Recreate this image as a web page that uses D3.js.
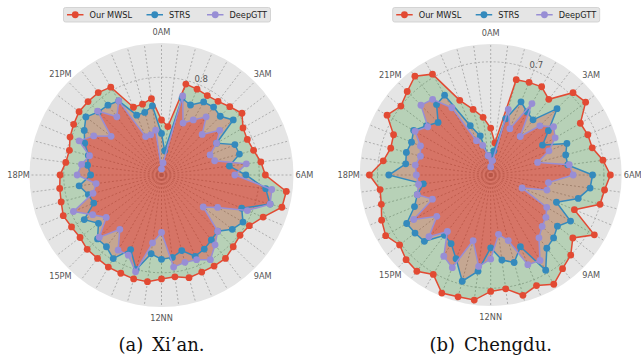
<!DOCTYPE html>
<html>
<head>
<meta charset="utf-8">
<script src="https://cdn.jsdelivr.net/npm/d3@7"></script>
<style>
  body { margin: 0; background: #fff; }
  svg text { font-family: "DejaVu Sans", sans-serif; }
</style>
</head>
<body>
<svg id="chart" width="641" height="360"></svg>
<script>
// 48 half-hour slots, labelled every 3 hours
const hourLabels = ["0AM", "3AM", "6AM", "9AM", "12NN", "15PM", "18PM", "21PM"];
const seriesNames = ["Our MWSL", "STRS", "DeepGTT"];
const seriesColors = ["#E24A33", "#348ABD", "#988ED5"];
const fillColors = ["rgba(0,128,0,0.2)", "rgba(255,0,0,0.2)", "rgba(255,0,0,0.3)"];

// Xi'an
const xianMWSL = [0.45, 0.40, 0.77, 0.76, 0.75, 0.76, 0.79, 0.83, 0.77, 0.76, 0.78, 0.82,
  0.85, 1.03, 1.02, 0.90, 0.83, 0.81, 0.83, 0.86, 0.86, 0.86, 0.87, 0.84,
  0.85, 0.88, 0.88, 0.87, 0.87, 0.86, 0.86, 0.84, 0.85, 0.87, 0.85, 0.84,
  0.83, 0.79, 0.78, 0.81, 0.83, 0.85, 0.85, 0.85, 0.83, 0.60, 0.60, 0.63];
const xianSTRS = [0.34, 0.20, 0.65, 0.62, 0.69, 0.70, 0.68, 0.74, 0.52, 0.65, 0.66, 0.56,
  0.69, 0.86, 0.92, 0.71, 0.77, 0.73, 0.65, 0.67, 0.70, 0.72, 0.64, 0.68,
  0.69, 0.65, 0.80, 0.66, 0.79, 0.74, 0.74, 0.65, 0.73, 0.60, 0.62, 0.68,
  0.58, 0.61, 0.62, 0.68, 0.73, 0.78, 0.73, 0.72, 0.70, 0.53, 0.53, 0.57];
const xianDeepGTT = [0.05, 0.10, 0.67, 0.46, 0.52, 0.60, 0.47, 0.60, 0.52, 0.43, 0.45, 0.70,
  0.60, 0.91, 0.92, 0.76, 0.53, 0.43, 0.65, 0.72, 0.80, 0.75, 0.74, 0.76,
  0.47, 0.56, 0.82, 0.71, 0.71, 0.56, 0.72, 0.57, 0.65, 0.78, 0.58, 0.54,
  0.69, 0.66, 0.61, 0.73, 0.64, 0.52, 0.74, 0.60, 0.70, 0.34, 0.34, 0.37];

// Chengdu
const chengduMWSL = [0.29, 0.20, 0.61, 0.62, 0.63, 0.59, 0.72, 0.74, 0.64, 0.65, 0.65, 0.70,
  0.74, 0.71, 0.70, 0.56, 0.74, 0.64, 0.70, 0.73, 0.78, 0.74, 0.77, 0.71,
  0.72, 0.78, 0.78, 0.79, 0.71, 0.75, 0.74, 0.71, 0.75, 0.73, 0.70, 0.69,
  0.75, 0.67, 0.64, 0.65, 0.74, 0.70, 0.73, 0.77, 0.72, 0.50, 0.42, 0.36];
const chengduSTRS = [0.12, 0.15, 0.36, 0.49, 0.45, 0.43, 0.58, 0.45, 0.37, 0.51, 0.48, 0.48,
  0.63, 0.62, 0.56, 0.44, 0.57, 0.52, 0.55, 0.57, 0.68, 0.48, 0.56, 0.53,
  0.45, 0.60, 0.68, 0.56, 0.49, 0.47, 0.58, 0.59, 0.60, 0.51, 0.47, 0.42,
  0.63, 0.53, 0.54, 0.53, 0.55, 0.50, 0.46, 0.55, 0.57, 0.33, 0.25, 0.12];
const chengduDeepGTT = [0.05, 0.09, 0.42, 0.31, 0.51, 0.30, 0.43, 0.49, 0.46, 0.39, 0.30, 0.49,
  0.51, 0.36, 0.36, 0.21, 0.40, 0.43, 0.45, 0.49, 0.61, 0.60, 0.42, 0.37,
  0.52, 0.57, 0.42, 0.62, 0.58, 0.44, 0.54, 0.42, 0.55, 0.39, 0.47, 0.45,
  0.46, 0.47, 0.45, 0.47, 0.54, 0.49, 0.61, 0.59, 0.48, 0.23, 0.19, 0.12];

const xianTicks = [0.8];
const chengduTicks = [0.7];

const N = 48;
const svg = d3.select("#chart");

function drawPanel(opts) {
  const g = svg.append("g").attr("transform", `translate(${opts.cx},${opts.cy})`);
  const angle = d3.scaleLinear().domain([0, N]).range([0, 2 * Math.PI]);
  const radius = d3.scaleLinear().domain([0, opts.rMax]).range([0, opts.R]);
  const px = (i, r) => r * Math.sin(angle(i));
  const py = (i, r) => -r * Math.cos(angle(i));

  // axes background
  g.append("circle").attr("r", opts.R).attr("fill", "#e5e5e5");

  // angular grid
  g.selectAll(".spoke").data(d3.range(N)).join("line")
    .attr("x1", 0).attr("y1", 0)
    .attr("x2", i => px(i, opts.R))
    .attr("y2", i => py(i, opts.R))
    .attr("stroke", "#a0a0a0")
    .attr("stroke-width", 0.8)
    .attr("stroke-dasharray", "2,2");

  // radial grid
  g.selectAll(".ring").data(opts.ticks).join("circle")
    .attr("r", d => radius(d))
    .attr("fill", "none")
    .attr("stroke", "#a0a0a0")
    .attr("stroke-width", 0.8)
    .attr("stroke-dasharray", "2,2");

  g.selectAll(".rlabel").data(opts.ticks).join("text")
    .attr("x", d => (radius(d) + 6) * Math.sin(Math.PI / 8))
    .attr("y", d => -(radius(d) + 6) * Math.cos(Math.PI / 8))
    .attr("text-anchor", "middle")
    .attr("dominant-baseline", "central")
    .attr("font-size", 8.5)
    .attr("fill", "#555")
    .text(d => d);

  // hour labels
  g.selectAll(".hour").data(hourLabels).join("text")
    .attr("x", (d, j) => px(j * 6, opts.R + 11))
    .attr("y", (d, j) => py(j * 6, opts.R + 11))
    .attr("text-anchor", "middle")
    .attr("dominant-baseline", "central")
    .attr("font-size", 8.2)
    .attr("fill", "#555")
    .text(d => d);

  const radial = d3.lineRadial()
    .angle((d, i) => angle(i))
    .radius(d => radius(d))
    .curve(d3.curveLinearClosed);

  // fills below lines
  opts.series.forEach((s, k) => {
    g.append("path").attr("d", radial(s)).attr("fill", fillColors[k]).attr("stroke", "none");
  });

  opts.series.forEach((s, k) => {
    g.append("path").attr("d", radial(s))
      .attr("fill", "none")
      .attr("stroke", seriesColors[k])
      .attr("stroke-width", 1.5);
    g.selectAll(".pt" + k).data(s).join("circle")
      .attr("cx", (d, i) => px(i, radius(d)))
      .attr("cy", (d, i) => py(i, radius(d)))
      .attr("r", 3.4)
      .attr("fill", seriesColors[k]);
  });

  // legend
  const lg = svg.append("g").attr("transform", `translate(${opts.legendX},7.5)`);
  lg.append("rect").attr("width", opts.legendW).attr("height", 14.5).attr("rx", 2)
    .attr("fill", "#e5e5e5").attr("stroke", "#cccccc").attr("stroke-width", 0.8);
  const offsets = [3.5, 83, 143.5];
  seriesNames.forEach((name, k) => {
    const e = lg.append("g").attr("transform", `translate(${offsets[k]},7.25)`);
    e.append("line").attr("x1", 0).attr("x2", 16.5).attr("stroke", seriesColors[k]).attr("stroke-width", 1.5);
    e.append("circle").attr("cx", 8.25).attr("r", 3.4).attr("fill", seriesColors[k]);
    e.append("text").attr("x", 22.5).attr("dominant-baseline", "central")
      .attr("font-size", 8.2).attr("fill", "#222").text(name);
  });

  // caption
  svg.append("text")
    .attr("x", opts.cx).attr("y", 351)
    .attr("text-anchor", "middle")
    .style("font-family", "'DejaVu Serif', serif")
    .attr("font-size", 18)
    .attr("fill", "#111")
    .text(opts.caption);
}

drawPanel({
  cx: 161.5, cy: 175, R: 132, rMax: 1.08, ticks: xianTicks,
  series: [xianMWSL, xianSTRS, xianDeepGTT],
  legendX: 63.5, legendW: 207, caption: "(a)\u2002Xi\u2019an."
});

drawPanel({
  cx: 490.7, cy: 175, R: 131, rMax: 0.81, ticks: chengduTicks,
  series: [chengduMWSL, chengduSTRS, chengduDeepGTT],
  legendX: 392.7, legendW: 207, caption: "(b)\u2002Chengdu."
});
</script>
</body>
</html>
